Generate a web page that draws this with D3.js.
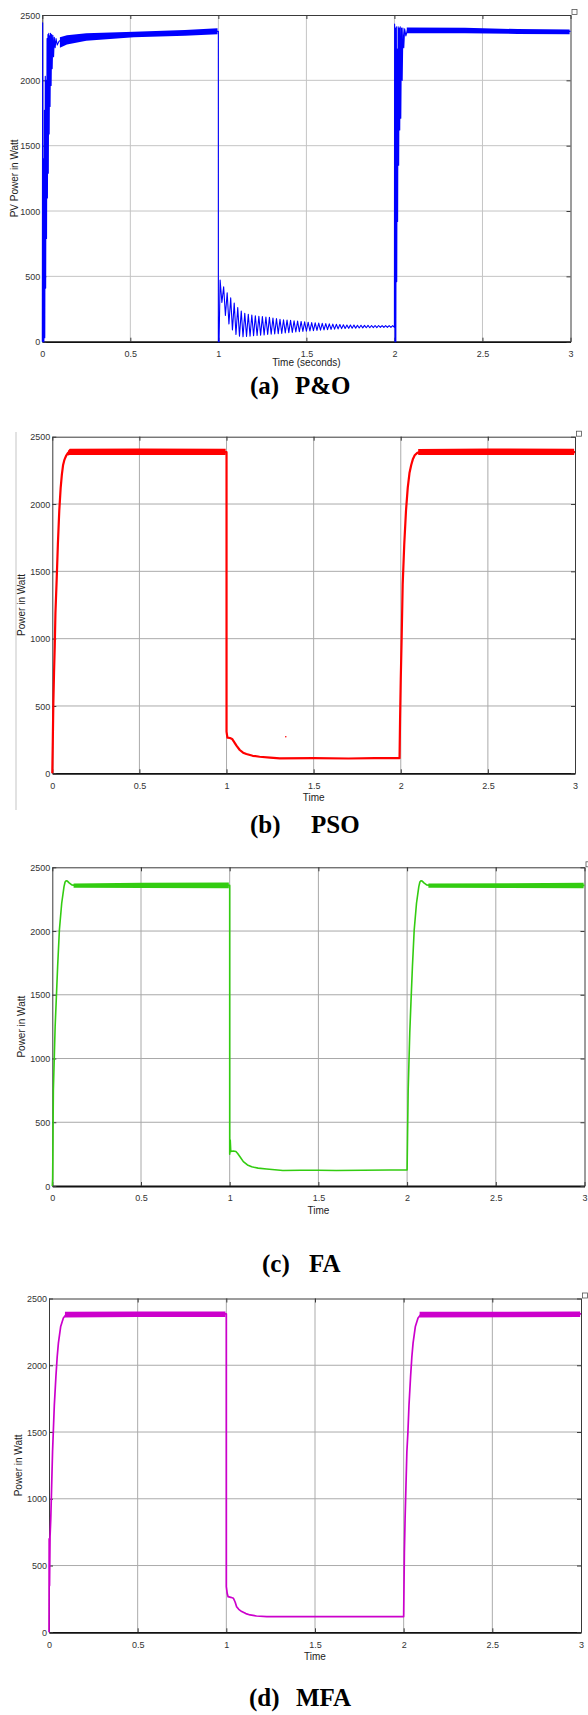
<!DOCTYPE html>
<html>
<head>
<meta charset="utf-8">
<script src="https://cdn.jsdelivr.net/npm/d3@7"></script>
<style>
  body { margin: 0; background: #fff; }
  svg { display: block; }
  .tick text { font-family: "Liberation Sans", Arial, sans-serif; font-size: 9px; fill: #333; }
  .title { font-family: "Liberation Sans", Arial, sans-serif; font-size: 10px; fill: #222; }
  .caption { font-family: "Liberation Serif", "Times New Roman", serif; font-size: 25px; font-weight: bold; fill: #000; }
</style>
</head>
<body>
<svg id="chart" width="588" height="1715"></svg>
<script>
// axis ticks shared by the four plots
const timeTicks = [0, 0.5, 1, 1.5, 2, 2.5, 3];
const powerTicks = [0, 500, 1000, 1500, 2000, 2500];

// (a) P&O : [time s, power W]
const poStart = [[0,0],[0.002,2440],[0.004,0],[0.007,1400],[0.009,0],[0.012,1770],[0.014,30],[0.017,2030],
  [0.019,410],[0.022,2000],[0.024,790],[0.027,2320],[0.029,1100],[0.032,2350],[0.034,1290],[0.037,2360],
  [0.039,1590],[0.042,2340],[0.044,1800],[0.047,2360],[0.05,1960],[0.053,2350],[0.056,2090],[0.06,2345],
  [0.064,2180],[0.068,2330],[0.073,2250],[0.078,2320],[0.085,2270],[0.095,2300],[0.11,2310],[0.14,2310],
  [0.3,2335],[0.6,2350],[0.995,2375],[1.0,2375],[1.0,0],[1.004,0]];
const poRipple = [[1.01,472],[1.02,300],[1.03,420],[1.04,200],[1.05,375],[1.06,135],[1.07,335],[1.08,90],
  [1.09,295],[1.10,55],[1.11,262],[1.12,42],[1.13,235],[1.14,38],[1.15,218],[1.16,40],[1.17,210],[1.18,42],
  [1.19,204],[1.20,45],[1.21,199],[1.22,47],[1.23,195],[1.24,50],[1.25,192],[1.26,52],[1.27,189],[1.28,55],
  [1.29,186],[1.30,57],[1.31,181],[1.32,59],[1.33,177],[1.34,62],[1.35,172],[1.36,64],[1.37,168],[1.38,67],
  [1.39,165],[1.40,69],[1.41,163],[1.42,71],[1.43,160],[1.44,74],[1.45,158],[1.46,76],[1.47,155],[1.48,78],
  [1.49,152],[1.50,80],[1.51,149],[1.52,82],[1.53,146],[1.54,84],[1.55,144],[1.56,86],[1.57,143],[1.58,88],
  [1.59,141],[1.60,90],[1.61,139],[1.62,92],[1.63,137],[1.64,94],[1.65,135],[1.66,96],[1.67,133],[1.68,98],
  [1.69,131],[1.70,100],[1.71,129],[1.72,101],[1.73,128],[1.74,102],[1.75,127],[1.76,103],[1.77,127],[1.78,104],
  [1.79,126],[1.80,105],[1.81,126],[1.82,106],[1.83,125],[1.84,107],[1.85,125],[1.86,107],[1.87,124],[1.88,108],
  [1.89,124],[1.90,108],[1.91,124],[1.92,109],[1.93,123],[1.94,109],[1.95,123],[1.96,110],[1.97,123],[1.98,110],
  [1.99,123],[2.00,110]];
const poRestart = [[2.001,2430],[2.003,0],[2.006,2400],[2.008,0],[2.011,2410],[2.013,460],[2.016,2240],
  [2.018,920],[2.021,2410],[2.024,1350],[2.027,2400],[2.03,1620],[2.033,2410],[2.036,1710],[2.04,2400],
  [2.044,2000],[2.048,2400],[2.053,2250],[2.058,2395],[2.065,2340],[2.075,2390],[2.09,2370],[2.12,2380],
  [2.5,2378],[3.0,2375]];
// steady ripple envelope: [time, low, high]
const poBand1 = [[0.1,2250,2330],[0.14,2275,2345],[0.25,2303,2360],[0.52,2329,2372],[0.81,2342,2385],[0.995,2352,2398]];
const poBand2 = [[2.07,2360,2405],[2.4,2360,2403],[2.7,2355,2392],[2.995,2353,2390]];

// (b) PSO
const psoTrace = [[0,0],[0.003,250],[0.006,520],[0.01,750],[0.014,940],[0.018,1190],[0.025,1435],[0.032,1700],
  [0.04,1950],[0.048,2120],[0.055,2220],[0.062,2290],[0.07,2330],[0.08,2360],[0.09,2380],[0.1,2385],[0.5,2385],
  [1.0,2385],[1.0,310],[1.005,265],[1.02,262],[1.032,255],[1.045,230],[1.057,205],[1.076,173],[1.095,153],
  [1.114,143],[1.15,130],[1.19,123],[1.25,116],[1.306,111],[1.5,112],[1.7,110],[1.85,112],[1.993,112],
  [1.996,400],[2.0,700],[2.005,1000],[2.011,1400],[2.02,1700],[2.03,1950],[2.04,2120],[2.05,2230],[2.06,2290],
  [2.07,2335],[2.08,2362],[2.095,2380],[2.11,2385],[3.0,2385]];
const psoBand1 = [[0.09,2360,2395],[0.1,2365,2410],[0.5,2365,2412],[0.995,2365,2410]];
const psoBand2 = [[2.1,2365,2408],[2.5,2365,2412],[2.995,2365,2410]];
const psoStray = [[1.34,272]];

// (c) FA
const faTrace = [[0,0],[0.002,60],[0.004,400],[0.006,750],[0.009,900],[0.012,1050],[0.016,1250],[0.022,1450],
  [0.03,1720],[0.04,2008],[0.053,2218],[0.066,2348],[0.072,2385],[0.078,2395],[0.085,2392],[0.095,2378],
  [0.11,2362],[0.14,2355],[0.5,2358],[1.0,2358],[1.0,250],[1.003,360],[1.006,270],[1.02,275],[1.035,270],
  [1.045,255],[1.058,230],[1.077,191],[1.1,165],[1.124,151],[1.16,140],[1.208,133],[1.3,122],[1.4,124],
  [1.5,123],[1.6,122],[1.75,124],[1.9,125],[2.0,125],[2.003,450],[2.006,750],[2.01,950],[2.015,1200],
  [2.022,1450],[2.03,1720],[2.04,2008],[2.053,2218],[2.066,2348],[2.072,2385],[2.078,2395],[2.085,2392],
  [2.095,2378],[2.11,2362],[2.14,2355],[3.0,2358]];
const faBand1 = [[0.12,2340,2372],[0.5,2338,2378],[0.995,2336,2380]];
const faBand2 = [[2.12,2340,2372],[2.995,2336,2378]];

// (d) MFA
const mfaTrace = [[0,0],[0.001,700],[0.003,350],[0.006,720],[0.01,850],[0.015,1100],[0.02,1350],[0.024,1492],
  [0.03,1700],[0.039,1916],[0.046,2060],[0.053,2166],[0.066,2291],[0.081,2354],[0.1,2385],[0.5,2385],
  [1.0,2385],[1.0,342],[1.005,290],[1.01,267],[1.025,262],[1.04,255],[1.05,225],[1.058,192],[1.07,172],
  [1.087,155],[1.11,140],[1.134,130],[1.17,122],[1.228,118],[1.5,118],[1.8,118],[2.0,118],[2.004,600],
  [2.008,850],[2.013,1100],[2.018,1350],[2.024,1500],[2.03,1700],[2.039,1916],[2.046,2060],[2.053,2166],
  [2.066,2291],[2.081,2354],[2.1,2385],[3.0,2385]];
const mfaBand1 = [[0.09,2358,2400],[0.5,2361,2403],[0.995,2361,2403]];
const mfaBand2 = [[2.09,2358,2400],[2.995,2362,2403]];

const panels = [
  { trace: poStart.concat(poRipple, poRestart), bands: [poBand1, poBand2], stray: [],
    color: "#0000ff", width: 1.1, left: 42.3, right: 570.5, top: 15, bottom: 341.7, grid: "#c4c4c4",
    yTitle: "PV Power in Watt", yTitleX: 18, xTitle: "Time (seconds)", xTitleY: 366,
    cap: ["(a)", "P&O"], capX: [250, 295], capY: 394 },
  { trace: psoTrace, bands: [psoBand1, psoBand2], stray: psoStray,
    color: "#ff0000", width: 2.2, left: 52.3, right: 575, top: 436.7, bottom: 773.3, grid: "#ababab",
    yTitle: "Power in Watt", yTitleX: 25, xTitle: "Time", xTitleY: 801,
    cap: ["(b)", "PSO"], capX: [250, 311], capY: 833 },
  { trace: faTrace, bands: [faBand1, faBand2], stray: [],
    color: "#33cc11", width: 1.6, left: 52.3, right: 584.5, top: 867.3, bottom: 1186, grid: "#a8a8a8",
    yTitle: "Power in Watt", yTitleX: 25, xTitle: "Time", xTitleY: 1214,
    cap: ["(c)", "FA"], capX: [262, 309], capY: 1272 },
  { trace: mfaTrace, bands: [mfaBand1, mfaBand2], stray: [],
    color: "#cc00cc", width: 1.7, left: 49, right: 581, top: 1298.5, bottom: 1632.3, grid: "#ababab",
    yTitle: "Power in Watt", yTitleX: 22, xTitle: "Time", xTitleY: 1660,
    cap: ["(d)", "MFA"], capX: [249, 296], capY: 1706 }
];

const svg = d3.select("#chart");

// faint screenshot edge left of the PSO plot
svg.append("rect").attr("x", 15).attr("y", 432).attr("width", 2).attr("height", 378).attr("fill", "#e2e2e2");

panels.forEach(p => {
  const x = d3.scaleLinear().domain([0, 3]).range([p.left, p.right]);
  const y = d3.scaleLinear().domain([0, 2500]).range([p.bottom, p.top]);
  const g = svg.append("g");

  // grid
  g.append("g").selectAll("line").data(timeTicks.slice(1, -1)).join("line")
    .attr("x1", d => x(d)).attr("x2", d => x(d)).attr("y1", p.top).attr("y2", p.bottom)
    .attr("stroke", p.grid).attr("stroke-width", 1);
  g.append("g").selectAll("line").data(powerTicks.slice(1, -1)).join("line")
    .attr("y1", d => y(d)).attr("y2", d => y(d)).attr("x1", p.left).attr("x2", p.right)
    .attr("stroke", p.grid).attr("stroke-width", 1);

  // axes, ticks pointing inward on all four sides
  const fmt = d => String(d);
  const axB = g.append("g").attr("transform", `translate(0,${p.bottom})`)
    .call(d3.axisBottom(x).tickValues(timeTicks).tickFormat(fmt).tickSize(-4).tickSizeOuter(0).tickPadding(9));
  const axL = g.append("g").attr("transform", `translate(${p.left},0)`)
    .call(d3.axisLeft(y).tickValues(powerTicks).tickFormat(fmt).tickSize(-4).tickSizeOuter(0).tickPadding(2));
  const axT = g.append("g").attr("transform", `translate(0,${p.top})`)
    .call(d3.axisTop(x).tickValues(timeTicks).tickFormat("").tickSize(-4).tickSizeOuter(0));
  const axR = g.append("g").attr("transform", `translate(${p.right},0)`)
    .call(d3.axisRight(y).tickValues(powerTicks).tickFormat("").tickSize(-4).tickSizeOuter(0));
  [axL, axT, axR].forEach(a => a.selectAll("path, line").attr("stroke", "#3a3a3a"));
  axB.selectAll("line").attr("stroke", "#3a3a3a");
  axB.select(".domain").attr("stroke", "#111").attr("stroke-width", 1.8);
  [axB, axL].forEach(a => a.selectAll(".tick text").attr("font-family", null).attr("font-size", null));
  axL.selectAll(".tick text").attr("dy", "0.35em");

  // steady-state ripple bands
  const area = d3.area().x(d => x(d[0])).y0(d => y(d[1])).y1(d => y(d[2]));
  p.bands.forEach(b => g.append("path").attr("d", area(b)).attr("fill", p.color));

  // trace
  const line = d3.line().x(d => x(d[0])).y(d => y(d[1]));
  g.append("path").attr("d", line(p.trace)).attr("fill", "none")
    .attr("stroke", p.color).attr("stroke-width", p.width).attr("stroke-linejoin", "round");
  g.selectAll("circle.stray").data(p.stray).join("circle").attr("class", "stray")
    .attr("cx", d => x(d[0])).attr("cy", d => y(d[1])).attr("r", 0.8).attr("fill", p.color);

  // corner icon
  g.append("rect").attr("x", p.right + 1.5).attr("y", p.top - 5.5).attr("width", 5).attr("height", 5)
    .attr("fill", "none").attr("stroke", "#555").attr("stroke-width", 0.8);

  // titles
  g.append("text").attr("class", "title").attr("text-anchor", "middle")
    .attr("x", (p.left + p.right) / 2).attr("y", p.xTitleY).text(p.xTitle);
  g.append("text").attr("class", "title").attr("text-anchor", "middle")
    .attr("transform", `translate(${p.yTitleX},${(p.top + p.bottom) / 2}) rotate(-90)`).text(p.yTitle);

  // caption
  g.append("text").attr("class", "caption").attr("x", p.capX[0]).attr("y", p.capY).text(p.cap[0]);
  g.append("text").attr("class", "caption").attr("x", p.capX[1]).attr("y", p.capY).text(p.cap[1]);
});
</script>
</body>
</html>
